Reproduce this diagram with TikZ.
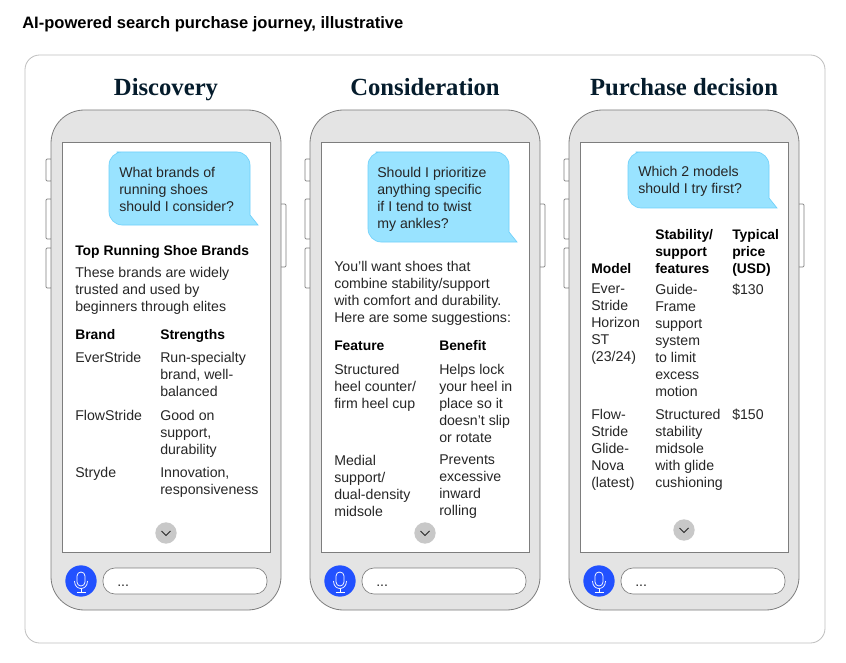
\documentclass[tikz,border=0pt]{standalone}
\usepackage{fontspec}
\setmainfont{Liberation Sans}
\newfontfamily\titleserif{Liberation Serif}
\usepackage{xcolor}
\usetikzlibrary{calc}
\definecolor{inktext}{RGB}{38,38,38}
\definecolor{inknavy}{RGB}{5,28,44}
\definecolor{phonegray}{RGB}{228,228,228}
\definecolor{phoneedge}{RGB}{125,125,125}
\definecolor{frameedge}{RGB}{190,190,190}
\definecolor{bubblefill}{RGB}{153,227,255}
\definecolor{bubbleedge}{RGB}{110,208,250}
\definecolor{micblue}{RGB}{34,81,255}
\definecolor{scrollgray}{RGB}{200,200,200}
\tikzset{
    body/.style={anchor=north west, inner sep=0pt, align=left, text=inktext, font=\fontsize{10.6}{12.75}\selectfont, execute at begin node=\strut},
    head/.style={body, text=black, font=\fontsize{10.4}{12.75}\selectfont\bfseries},
    phonetitle/.style={inner sep=0pt, anchor=base, text=inknavy, font=\fontsize{18.5}{22}\titleserif\bfseries},
    phonebody/.style={draw=phoneedge, fill=phonegray, line width=0.6pt, rounded corners=25pt},
    sidekey/.style={draw=phoneedge, fill=white, line width=0.5pt, rounded corners=0.8pt},
    phonescreen/.style={draw=phoneedge, fill=white, line width=0.6pt},
    bubble/.style={draw=bubbleedge, fill=bubblefill, line width=0.5pt},
    scrollbtn/.style={circle, fill=scrollgray, minimum size=16pt, inner sep=0pt},
    micbtn/.style={circle, fill=micblue, minimum size=23.5pt, inner sep=0pt},
    inputbox/.style={draw=phoneedge, fill=white, line width=0.5pt, rounded corners=9pt},
    micline/.style={draw=white, line width=0.55pt},
}
\begin{document}
\begin{tikzpicture}[x=0.75pt,y=-0.75pt]
    \useasboundingbox (0,0) rectangle (846,663);
    \fill[white] (0,0) rectangle (846,663);

    \node[head, font=\fontsize{12.4}{15}\selectfont\bfseries] (mainhead) at (22,14) {AI-powered search purchase journey, illustrative};
    \draw[frameedge, line width=0.6pt, rounded corners=11pt] (25,55) rectangle (825,643);

    % Phone frames
    \foreach \px/\py/\ptitle/\pname in {0/533/Discovery/one, 259/533/Consideration/two, 518/530/Purchase decision/three}{
        \begin{scope}[shift={(\px,0)}]
            \node[phonetitle] (title\pname) at (166,96) {\ptitle};
            \draw[sidekey] (46,159) rectangle (52,181);
            \draw[sidekey] (46,199) rectangle (52,239);
            \draw[sidekey] (46,248) rectangle (52,288);
            \draw[sidekey] (280,204) rectangle (286,267);
            \draw[phonebody] (51,110) rectangle (281,610);
            \draw[phonescreen] (62,142) rectangle (270,552);
            \node[scrollbtn] (scroll\pname) at (166,\py) {};
            \draw[inktext, line width=0.7pt] ($(scroll\pname)+(-4.5,-2)$) -- ($(scroll\pname)+(0,2.5)$) -- ($(scroll\pname)+(4.5,-2)$);
            \node[micbtn] (mic\pname) at (81,581) {};
            \draw[micline, rounded corners=3pt] ($(mic\pname)+(-4,-9)$) rectangle ($(mic\pname)+(4,5)$);
            \draw[micline] ($(mic\pname)+(-6.5,0)$) .. controls ($(mic\pname)+(-6.5,10)$) and ($(mic\pname)+(6.5,10)$) .. ($(mic\pname)+(6.5,0)$);
            \draw[micline] ($(mic\pname)+(0,8)$) -- ($(mic\pname)+(0,11.5)$);
            \draw[micline] ($(mic\pname)+(-4.5,11.5)$) -- ($(mic\pname)+(4.5,11.5)$);
            \draw[inputbox] (103,568) rectangle (267,594);
            \node[body] (input\pname) at (117,574) {...};
        \end{scope}
    }

    % Chat bubbles
    \draw[bubble] (130,152) [rounded corners=10pt] -- (250,152) -- (250,200) [sharp corners] -- (250,215) -- (258,225) [rounded corners=10pt] -- (109,225) -- (109,152) -- cycle;
    \draw[bubble] (389,152) [rounded corners=10pt] -- (509,152) -- (509,217) [sharp corners] -- (509,232) -- (517,242) [rounded corners=10pt] -- (368,242) -- (368,152) -- cycle;
    \draw[bubble] (649,152) [rounded corners=10pt] -- (769,152) -- (769,183) [sharp corners] -- (769,198) -- (777,208) [rounded corners=10pt] -- (628,208) -- (628,152) -- cycle;

    % Discovery
    \node[body] (askone) at (119,167) {What brands of\\running shoes\\should I consider?};
    \node[head] (topbrands) at (75,243) {Top Running Shoe Brands};
    \node[body] (intro) at (75,267) {These brands are widely\\trusted and used by\\beginners through elites};
    \node[head] (brandcol) at (75,327) {Brand};
    \node[head] (strengthcol) at (160,327) {Strengths};
    \node[body] (brandA) at (75,350) {EverStride};
    \node[body] (strengthA) at (160,352) {Run-specialty\\brand, well-\\balanced};
    \node[body] (brandB) at (75,408) {FlowStride};
    \node[body] (strengthB) at (160,410) {Good on\\support,\\durability};
    \node[body] (brandC) at (75,465) {Stryde};
    \node[body] (strengthC) at (160,467) {Innovation,\\responsiveness};

    % Consideration
    \node[body] (asktwo) at (377,167) {Should I prioritize\\anything specific\\if I tend to twist\\my ankles?};
    \node[body] (answer) at (334,261) {You’ll want shoes that\\combine stability/support\\with comfort and durability.\\Here are some suggestions:};
    \node[head] (featurecol) at (334,338) {Feature};
    \node[head] (benefitcol) at (439,338) {Benefit};
    \node[body] (featureA) at (334,364) {Structured\\heel counter/\\firm heel cup};
    \node[body] (benefitA) at (439,364) {Helps lock\\your heel in\\place so it\\doesn’t slip\\or rotate};
    \node[body] (featureB) at (334,455) {Medial\\support/\\dual-density\\midsole};
    \node[body] (benefitB) at (439,455) {Prevents\\excessive\\inward\\rolling};

    % Purchase decision
    \node[body] (askthree) at (638,166) {Which 2 models\\should I try first?};
    \node[head] (modelcol) at (591,261) {Model};
    \node[head] (stabilitycol) at (655,229) {Stability/\\support\\features};
    \node[head] (pricecol) at (732,229) {Typical\\price\\(USD)};
    \node[body] (modelA) at (591,284) {Ever-\\Stride\\Horizon\\ST\\(23/24)};
    \node[body] (stabilityA) at (655,284) {Guide-\\Frame\\support\\system\\to limit\\excess\\motion};
    \node[body] (priceA) at (732,282) {\$130};
    \node[body] (modelB) at (591,409) {Flow-\\Stride\\Glide-\\Nova\\(latest)};
    \node[body] (stabilityB) at (655,409) {Structured\\stability\\midsole\\with glide\\cushioning};
    \node[body] (priceB) at (732,407) {\$150};
\end{tikzpicture}
\end{document}
